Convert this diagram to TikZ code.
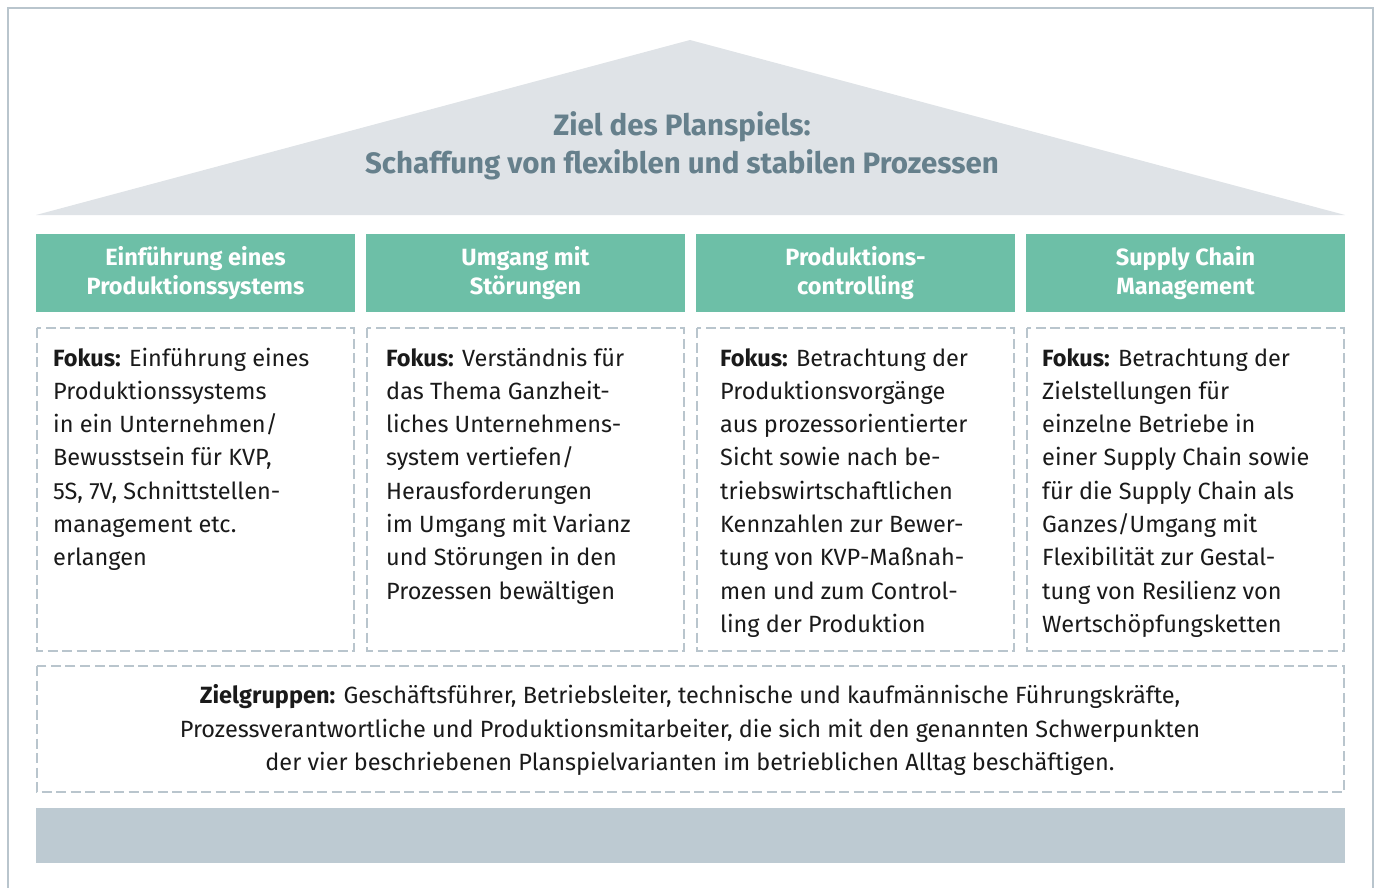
\documentclass[tikz,border=0pt]{standalone}
\usepackage{fontspec}
\setmainfont{Fira Sans}
\definecolor{framegray}{HTML}{B9C5CD}
\definecolor{roofgray}{HTML}{DFE3E7}
\definecolor{titlegray}{HTML}{66808C}
\definecolor{pillargreen}{HTML}{6DBFA7}
\definecolor{basegray}{HTML}{BDCAD2}
\definecolor{bodytext}{HTML}{1A1A1A}
\begin{document}
\begin{tikzpicture}[x=1pt,y=-1pt,
  pillarhead/.style={fill=pillargreen,draw=none},
  focusbox/.style={draw=framegray,line width=2pt,dash pattern=on 10pt off 4.5pt},
  headtext/.style={text=white,font=\fontsize{23.5}{29}\selectfont\bfseries,align=center,inner sep=0pt},
  bodytxt/.style={text=bodytext,font=\fontsize{23.5}{33.3}\selectfont,align=left,inner sep=0pt,anchor=base west},
  titletxt/.style={text=titlegray,font=\fontsize{29.5}{38}\selectfont\bfseries,align=center,inner sep=0pt}]
\useasboundingbox (0,0) rectangle (1379,888);
% outer frame (open at the bottom)
\draw[framegray,line width=2.5pt] (8,920) -- (8,8) -- (1373,8) -- (1373,920);
% roof
\fill[roofgray] (36,215) -- (690,40) -- (1345,215) -- cycle;
\node[titletxt] (title) at (682,146) {Ziel des Planspiels:\\Schaffung von flexiblen und stabilen Prozessen};
% pillar headers
\fill[pillarhead] (36,234) rectangle (355,312);
\fill[pillarhead] (366,234) rectangle (685,312);
\fill[pillarhead] (696,234) rectangle (1015,312);
\fill[pillarhead] (1026,234) rectangle (1345,312);
\node[headtext] (h1) at (195.5,273) {Einführung eines\\Produktionssystems};
\node[headtext] (h2) at (525.5,273) {Umgang mit\\Störungen};
\node[headtext] (h3) at (855.5,273) {Produktions-\\controlling};
\node[headtext] (h4) at (1185.5,273) {Supply Chain\\Management};
% pillar bodies (text anchored on the baseline of its last line)
\draw[focusbox] (37,328) rectangle (354,651);
\draw[focusbox] (367,328) rectangle (684,651);
\draw[focusbox] (697,328) rectangle (1014,651);
\draw[focusbox] (1027,328) rectangle (1344,651);
\node[bodytxt] (b1) at (53,565.8) {\textbf{Fokus:} Einführung eines\\Produktionssystems\\in ein Unternehmen/\\Bewusstsein für KVP,\\5S, 7V, Schnittstellen-\\management etc.\\erlangen};
\node[bodytxt] (b2) at (386,599.1) {\textbf{Fokus:} Verständnis für\\das Thema Ganzheit-\\liches Unternehmens-\\system vertiefen/\\Herausforderungen\\im Umgang mit Varianz\\und Störungen in den\\Prozessen bewältigen};
\node[bodytxt] (b3) at (720,632.4) {\textbf{Fokus:} Betrachtung der\\Produktionsvorgänge\\aus prozessorientierter\\Sicht sowie nach be-\\triebswirtschaftlichen\\Kennzahlen zur Bewer-\\tung von KVP-Maßnah-\\men und zum Control-\\ling der Produktion};
\node[bodytxt] (b4) at (1042,632.4) {\textbf{Fokus:} Betrachtung der\\Zielstellungen für\\einzelne Betriebe in\\einer Supply Chain sowie\\für die Supply Chain als\\Ganzes/Umgang mit\\Flexibilität zur Gestal-\\tung von Resilienz von\\Wertschöpfungsketten};
% target groups
\draw[focusbox] (37,666) rectangle (1344,792);
\node[bodytxt,align=center,anchor=center] (groups) at (690,730) {\textbf{Zielgruppen:} Geschäftsführer, Betriebsleiter, technische und kaufmännische Führungskräfte,\\Prozessverantwortliche und Produktionsmitarbeiter, die sich mit den genannten Schwerpunkten\\der vier beschriebenen Planspielvarianten im betrieblichen Alltag beschäftigen.};
% foundation
\fill[basegray] (36,808) rectangle (1345,863);
\end{tikzpicture}
\end{document}
